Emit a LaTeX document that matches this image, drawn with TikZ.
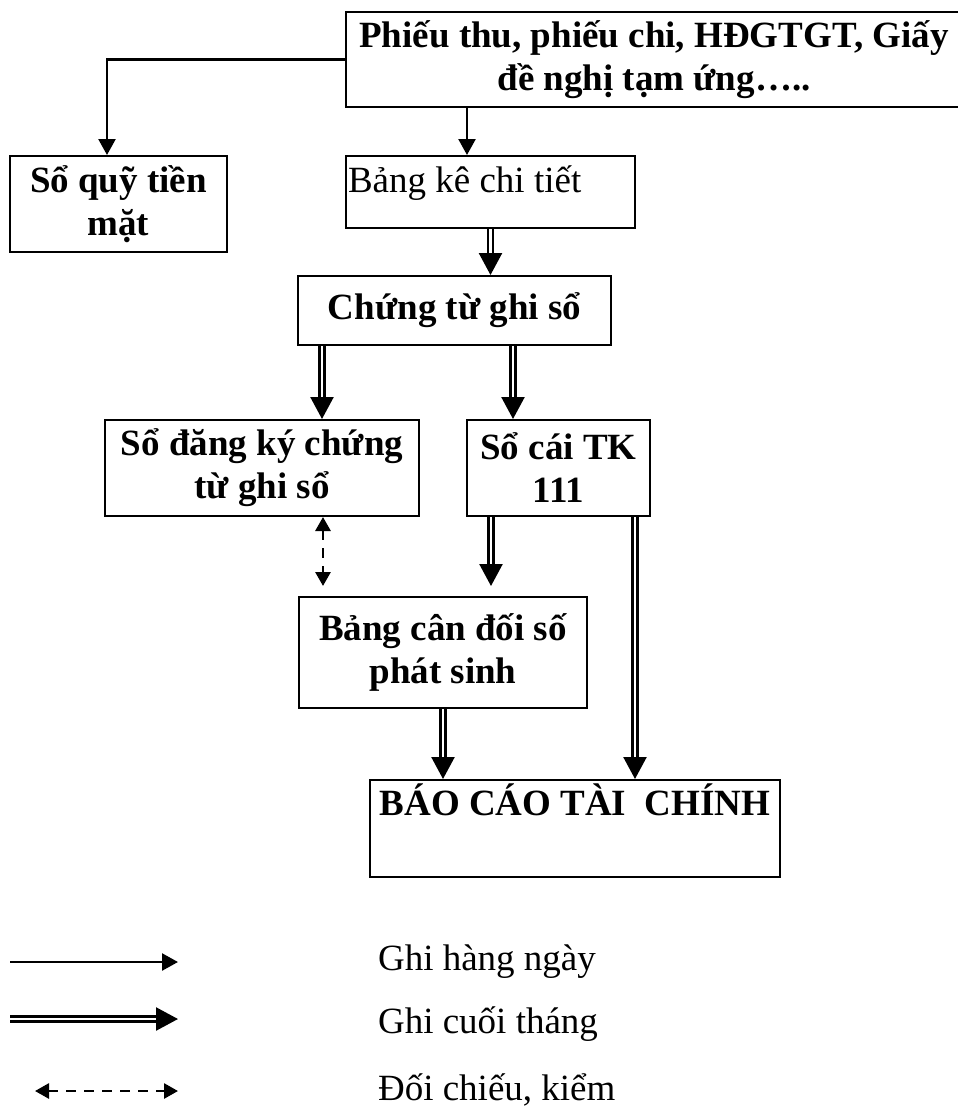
\documentclass[tikz,border=0pt]{standalone}
\usepackage{fontspec}
\setmainfont{Liberation Serif}
\usetikzlibrary{arrows.meta}

\begin{document}
\begin{tikzpicture}[x=0.5pt,y=-0.5pt,
    txt/.style={font=\fontsize{18.5}{21.5}\selectfont},
    box/.style={draw,line width=1pt,inner sep=1pt,align=center,
      font=\fontsize{18.5}{21.5}\selectfont\bfseries},
    daily/.style={line width=1.2pt,-{Triangle[length=8pt,width=8.5pt]}},
    monthly/.style={double,line width=1.2pt,double distance=1.4pt,
      -{Triangle[length=11pt,width=11.5pt]}},
    check/.style={line width=1.4pt,dash pattern=on 5pt off 4pt,
      {Triangle[length=7pt,width=7.5pt]}-{Triangle[length=7pt,width=7.5pt]}}]
  \useasboundingbox (0,0) rectangle (958,1115);

  \node[box,minimum width=308pt,minimum height=47.5pt]  (P) at (654,59.5)   {Phiếu thu, phiếu chi, HĐGTGT, Giấy\\đề nghị tạm ứng…..};
  \node[box,minimum width=108.5pt,minimum height=48pt]  (Q) at (118.5,204)  {Sổ quỹ tiền\\mặt};
  \node[box,txt,text width=142.5pt,align=flush left,minimum height=36pt,
        text height=13pt,text depth=13pt]              (K) at (490.5,192)  {Bảng kê chi tiết};
  \node[box,minimum width=156.5pt,minimum height=34.5pt] (C) at (454.5,310.5) {Chứng từ ghi sổ};
  \node[box,minimum width=157pt,minimum height=48pt]    (D) at (262,468)    {Sổ đăng ký chứng\\từ ghi sổ};
  \node[box,minimum width=91.5pt,minimum height=48pt]   (S) at (558.5,468)  {Sổ cái TK\\111};
  \node[box,minimum width=144pt,minimum height=55.5pt]  (B) at (443,652.5)  {Bảng cân đối số\\phát sinh};
  \node[box,minimum width=205pt,minimum height=48.5pt,
        text height=13pt,text depth=26.5pt]            (F) at (575,828.5)  {BÁO CÁO TÀI~ CHÍNH};

  \path (P.west) edge [daily,to path={-| (\tikztotarget)}] ([xshift=-5.75pt]Q.north)
        ([xshift=-11.75pt]K.north |- P.south) edge [daily]    ([xshift=-11.75pt]K.north)
        (K.south)                             edge [monthly]  (K.south |- C.north)
        ([xshift=30pt]D.north |- C.south)     edge [monthly]  ([xshift=30pt]D.north)
        ([xshift=-22.75pt]S.north |- C.south) edge [monthly]  ([xshift=-22.75pt]S.north)
        ([xshift=24pt]B.north |- S.south)     edge [monthly,shorten >=5pt] ([xshift=24pt]B.north)
        ([xshift=38.25pt]S.south)             edge [monthly]  ([xshift=38.25pt]S.south |- F.north)
        (B.south)                             edge [monthly]  (B.south |- F.north)
        ([xshift=30.5pt]D.south)              edge [check,shorten >=5pt] ([xshift=30.5pt]D.south |- B.north);

  \coordinate (a1) at (10,962);
  \coordinate (a2) at (178,962);
  \coordinate (b1) at (10,1019);
  \coordinate (b2) at (178,1019);
  \coordinate (c1) at (35,1091);
  \coordinate (c2) at (178,1091);
  \path (a1) edge [daily]   (a2)
        (b1) edge [monthly] (b2)
        (c1) edge [check]   (c2);
  \node[txt,anchor=base west] (la) at (371,970)  {Ghi hàng ngày};
  \node[txt,anchor=base west] (lb) at (371,1033) {Ghi cuối tháng};
  \node[txt,anchor=base west] (lc) at (371,1100) {Đối chiếu, kiểm};
\end{tikzpicture}
\end{document}
